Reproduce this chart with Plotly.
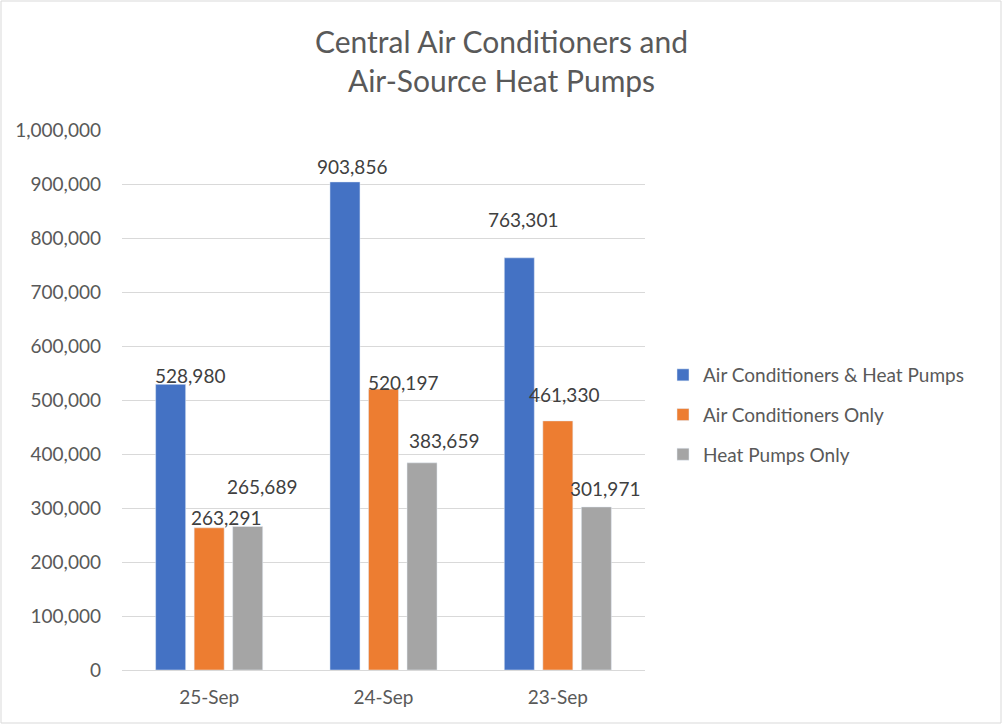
import plotly.graph_objects as go

days = ["25-Sep", "24-Sep", "23-Sep"]
series_names = ["Air Conditioners & Heat Pumps", "Air Conditioners Only", "Heat Pumps Only"]
ac_and_hp = [528980, 903856, 763301]
ac_only = [263291, 520197, 461330]
hp_only = [265689, 383659, 301971]

colors = ["#4472C4", "#ED7D31", "#A5A5A5"]
# label nudges in pixels (dx, dy) like the hand-placed excel labels
label_nudge = [
    [(19, 9), (7, 15), (4, 38)],
    [(17, 10), (19, 7), (6, 26)],
    [(14, 40), (22, 22), (9, 18)],
]

L, R, T, B = 122, 358, 130, 55
W, H = 1003, 725
pw, ph = W - L - R, H - T - B
slot = 38.5

fig = go.Figure()
all_vals = [ac_and_hp, ac_only, hp_only]
for i, (name, vals) in enumerate(zip(series_names, all_vals)):
    fig.add_trace(go.Bar(x=days, y=vals, name=name, marker_color=colors[i],
                         legendgroup=name, hoverinfo="y"))
    for j, v in enumerate(vals):
        dx, dy = label_nudge[i][j]
        fig.add_annotation(x=days[j], y=v, text=f"{v:,}", showarrow=False,
                           xshift=(i - 1) * slot + dx, yshift=dy,
                           yanchor="middle",
                           font=dict(size=19, color="#404040"))

# chart border
fig.add_shape(type="rect", xref="paper", yref="paper",
              x0=(1 - L) / pw, x1=(W - 2 - L) / pw,
              y0=-(B - 2) / ph, y1=(H - B - 1) / ph,
              line=dict(color="#D9D9D9", width=1))

fig.update_layout(
    width=W, height=H,
    margin=dict(l=L, r=R, t=T, b=B),
    paper_bgcolor="white", plot_bgcolor="white",
    font=dict(family="Lato", color="#595959"),
    title=dict(text="Central Air Conditioners and<br>Air-Source Heat Pumps",
               x=0.5, xref="container", y=0.927, yanchor="top",
               font=dict(size=30, color="#595959")),
    barmode="group", bargap=0.337, bargroupgap=0.221,
    showlegend=True,
    legend=dict(x=(663 - L) / pw, y=(670 - 415) / ph, xanchor="left", yanchor="middle",
                font=dict(size=19, color="#595959"), tracegroupgap=12,
                itemwidth=30),
    xaxis=dict(showline=True, linecolor="#D9D9D9", linewidth=1, ticks="",
               tickfont=dict(size=19, color="#595959"), ticklabelstandoff=10),
    yaxis=dict(range=[0, 1000000], dtick=100000, tickformat=",",
               gridcolor="#D9D9D9", gridwidth=1, zeroline=False,
               tickfont=dict(size=19, color="#595959"), ticklabelstandoff=20),
)

fig.write_html("out.html", config={"displayModeBar": False},
               post_script="document.body.style.margin='0px';")
